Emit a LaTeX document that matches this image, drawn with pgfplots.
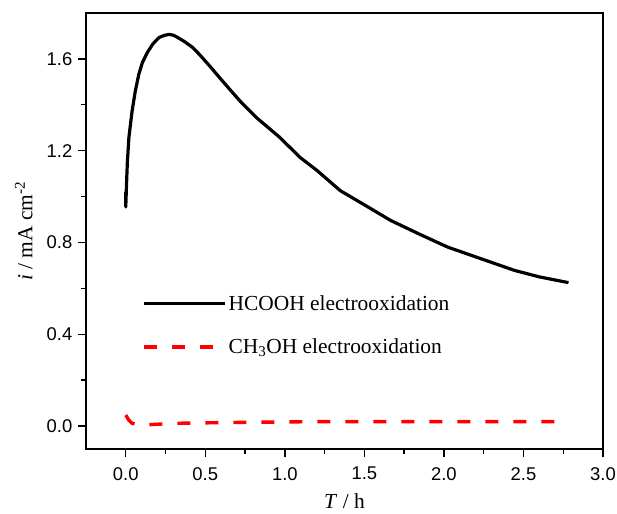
\documentclass[border=0pt]{standalone}
\usepackage{fontspec}
\setmainfont{Liberation Serif}
\newfontfamily\tickfont{Liberation Sans}
\usepackage{pgfplots}
\pgfplotsset{compat=1.18}
\pgfplotsset{
  long legend/.style={legend image code/.code={\draw[##1] (0bp,0bp) -- (81bp,0bp);}},
  short legend/.style={legend image code/.code={\draw[##1] (0bp,0bp) -- (69bp,0bp);
      \path (0bp,0bp) -- (81bp,0bp);}},
}

\begin{document}
\begin{tikzpicture}
\begin{axis}[
    width=517bp, height=436bp,
    scale only axis,
    xmin=-0.25, xmax=3.0,
    ymin=-0.1, ymax=1.8,
    xtick={0,0.5,...,3.0},
    ytick={0,0.4,...,1.6},
    minor xtick={0.25,0.75,1.25,1.75,2.25,2.75},
    minor ytick={0.2,0.6,1.0,1.4},
    tick pos=left,
    tick align=outside,
    major tick length=8bp,
    minor tick length=5bp,
    every tick/.style={line width=1.4bp,black},
    axis line style={line width=1.6bp},
    /pgf/number format/assume math mode=true,
    /pgf/number format/.cd,fixed,fixed zerofill,precision=1,
    /pgfplots/.cd,
    tick label style={font=\fontsize{18.5}{22}\selectfont\tickfont, inner sep=0pt},
    xticklabel style={yshift=-10bp},
    yticklabel style={xshift=-5.5bp},
    label style={font=\fontsize{21.5}{24}\selectfont, inner sep=0pt},
    xlabel={\textit{T} / h},
    ylabel={\textit{i} / mA cm\textsuperscript{-2}},
    xlabel style={at={(axis description cs:0.5,-0.1030)}, anchor=north},
    ylabel style={at={(axis description cs:-0.1027,0.5)}, anchor=south},
    legend style={at={(rel axis cs:0.1085,0.357)}, anchor=north west,
        draw=none, fill=none, font=\fontsize{21.5}{24}\selectfont,
        row sep=23bp, inner sep=0pt},
    legend cell align=left,
]
\addplot[black, line width=3.2bp, line join=round, long legend] coordinates {
(0.0,1.02) (0.0,0.955) (0.005,1.06) (0.01,1.15) (0.02,1.26) (0.04,1.374)
(0.06,1.46) (0.082,1.533) (0.105,1.585) (0.135,1.627) (0.17,1.665)
(0.209,1.693) (0.24,1.702) (0.272,1.707) (0.30,1.703) (0.325,1.694)
(0.37,1.675) (0.42,1.65) (0.462,1.62) (0.52,1.575) (0.589,1.519)
(0.65,1.47) (0.72,1.415) (0.82,1.345) (0.968,1.258) (1.095,1.171)
(1.2,1.115) (1.348,1.026) (1.5,0.964) (1.665,0.896) (1.85,0.835)
(2.023,0.78) (2.25,0.725) (2.445,0.678) (2.6,0.65) (2.783,0.625)
};
\addlegendentry{HCOOH electrooxidation}
\addplot[red, line width=3.4bp, dash pattern=on 13bp off 15bp, short legend] coordinates {
(0.0,0.048) (0.02,0.025) (0.04,0.012) (0.08,0.006) (0.146,0.006)
(0.31,0.012) (0.6,0.015) (1.16,0.019) (2.0,0.019) (2.78,0.019)
};
\addlegendentry{CH\textsubscript{3}OH electrooxidation}
\end{axis}
\pgfresetboundingbox
\path ([shift={(-86bp,-65bp)}]current axis.south west) rectangle
      ([shift={(14bp,13bp)}]current axis.north east);
\end{tikzpicture}
\end{document}
